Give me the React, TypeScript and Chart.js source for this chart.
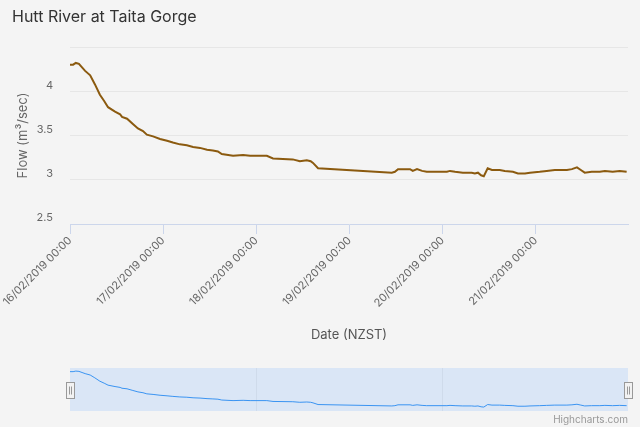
import React, { useEffect, useRef } from 'react';
import { Chart, registerables } from 'chart.js';

Chart.register(...registerables);

// ---- data (hours since 16/02/2019 00:00 NZST, flow m³/sec) ----
const hours = [
  0, 0.8, 1.5, 2.3, 3.1, 3.9, 5.2, 6.4, 7.7, 8.8, 9.8, 11.6, 12.9, 13.4, 14.7, 16.2, 17.5, 18.8, 19.8,
  21.4, 23.2, 25, 26.5, 28.3, 30.1, 31.7, 33.5, 35.3, 36.8, 38.1, 39.1, 42, 44.6, 46.4, 50.7, 52.3,
  57.4, 59.2, 61, 62, 62.6, 63.9, 82.9, 83.7, 84.5, 87.6, 88.3, 89.4, 90.7, 91.9, 97.1, 97.9, 99.2,
  101.2, 103.5, 104.3, 105.1, 105.9, 106.6, 107.6, 108.7, 110.7, 112, 114.1, 115.4, 117.2, 118.5,
  121, 122.8, 124.9, 128, 129.3, 130.6, 131.6, 132.6, 134.4, 136.5, 137.8, 139.8, 141.6, 143.4,
];
const flows = [
  4.3, 4.3, 4.32, 4.31, 4.27, 4.23, 4.18, 4.08, 3.96, 3.89, 3.82, 3.77, 3.74, 3.71, 3.69, 3.63, 3.58, 3.55, 3.51,
  3.49, 3.46, 3.44, 3.42, 3.4, 3.39, 3.37, 3.36, 3.34, 3.33, 3.32, 3.29, 3.27, 3.28, 3.27, 3.27, 3.24,
  3.23, 3.21, 3.22, 3.21, 3.19, 3.13, 3.08, 3.09, 3.12, 3.12, 3.1, 3.12, 3.1, 3.09, 3.09, 3.1, 3.09,
  3.08, 3.08, 3.07, 3.08, 3.05, 3.04, 3.13, 3.11, 3.11, 3.1, 3.09, 3.07, 3.07, 3.08,
  3.09, 3.1, 3.11, 3.11, 3.12, 3.14, 3.11, 3.08, 3.09, 3.09, 3.1, 3.09, 3.1, 3.09,
];
const xTickHours = [0, 24, 48, 72, 96, 120];
const xTickLabels = [
  '16/02/2019 00:00',
  '17/02/2019 00:00',
  '18/02/2019 00:00',
  '19/02/2019 00:00',
  '20/02/2019 00:00',
  '21/02/2019 00:00',
];
const navGridHours = [48, 96];
const yTickValues = [2.5, 3, 3.5, 4, 4.5];
const yTickLabels = ['2.5', '3', '3.5', '4', ''];
const yMin = 2.5;
const yMax = 4.5;
const xMax = 143.75;
const titleText = 'Hutt River at Taita Gorge';
const yTitleText = 'Flow (m³/sec)';
const xTitleText = 'Date (NZST)';
const creditText = 'Highcharts.com';

const FONT = 'Inter, "Open Sans", "DejaVu Sans", sans-serif';
const LINE_COLOR = '#8b5a0f';
const NAV_LINE = '#3a94f2';
const NAV_FILL = '#dae6f6';

const points = () => hours.map((h, i) => ({ x: h, y: flows[i] }));

const navDecor = {
  id: 'navDecor',
  beforeDraw(chart: any) {
    const { ctx, chartArea: a } = chart;
    ctx.save();
    ctx.fillStyle = NAV_FILL;
    ctx.fillRect(a.left, a.top, a.right - a.left, a.bottom - a.top);
    ctx.restore();
  },
  afterDraw(chart: any) {
    const { ctx, chartArea: a } = chart;
    const cy = (a.top + a.bottom) / 2;
    [a.left, a.right].forEach((x: number) => {
      const w = 8;
      const h = 16;
      const rx = Math.round(x - w / 2) + 0.5;
      const ry = Math.round(cy - h / 2) + 0.5;
      ctx.save();
      ctx.fillStyle = '#f2f2f2';
      ctx.strokeStyle = '#999999';
      ctx.lineWidth = 1;
      ctx.fillRect(rx, ry, w, h);
      ctx.strokeRect(rx, ry, w, h);
      ctx.beginPath();
      ctx.moveTo(rx + 3, ry + 4);
      ctx.lineTo(rx + 3, ry + h - 4);
      ctx.moveTo(rx + 5, ry + 4);
      ctx.lineTo(rx + 5, ry + h - 4);
      ctx.stroke();
      ctx.restore();
    });
  },
};

export default function App() {
  const mainRef = useRef<HTMLCanvasElement>(null);
  const navRef = useRef<HTMLCanvasElement>(null);

  useEffect(() => {
    const main = new Chart(mainRef.current as HTMLCanvasElement, {
      type: 'line',
      data: {
        datasets: [
          {
            data: points(),
            borderColor: LINE_COLOR,
            borderWidth: 2,
            pointRadius: 0,
            tension: 0,
            fill: false,
          },
        ],
      },
      options: {
        animation: false,
        responsive: false,
        events: [],
        layout: { padding: { left: 12, right: 12, top: 0, bottom: 0 } },
        plugins: {
          legend: { display: false },
          tooltip: { enabled: false },
          title: {
            display: true,
            text: titleText,
            align: 'start',
            color: '#333333',
            font: { family: FONT, size: 16, weight: 'normal' },
            padding: { top: 8, bottom: 19.8 },
          },
        },
        scales: {
          x: {
            type: 'linear',
            min: 0,
            max: xMax,
            afterBuildTicks: (s: any) => {
              s.ticks = xTickHours.map((v) => ({ value: v }));
            },
            afterFit: (s: any) => {
              s.height = 136;
            },
            ticks: {
              autoSkip: false,
              maxRotation: 45,
              minRotation: 45,
              padding: 0,
              color: '#666666',
              font: { family: FONT, size: 11 },
              callback: (v: any) => xTickLabels[xTickHours.indexOf(Number(v))] ?? '',
            },
            grid: {
              drawOnChartArea: false,
              drawTicks: true,
              tickLength: 10,
              color: '#ccd6eb',
            },
            border: { display: true, color: '#ccd6eb' },
            title: {
              display: true,
              text: xTitleText,
              color: '#555555',
              font: { family: FONT, size: 13 },
              padding: { top: 0, bottom: 17 },
            },
          },
          y: {
            type: 'linear',
            min: yMin,
            max: yMax,
            afterBuildTicks: (s: any) => {
              s.ticks = yTickValues.map((v) => ({ value: v }));
            },
            afterFit: (s: any) => {
              s.width = 58;
            },
            ticks: {
              padding: 17,
              labelOffset: -6,
              color: '#666666',
              font: { family: FONT, size: 11 },
              callback: (v: any) => yTickLabels[yTickValues.indexOf(Number(v))] ?? '',
            },
            grid: {
              drawTicks: false,
              color: (c: any) => (c.tick && c.tick.value === yMin ? 'rgba(0,0,0,0)' : '#e6e6e6'),
            },
            border: { display: false },
            title: {
              display: true,
              text: yTitleText,
              color: '#666666',
              font: { family: FONT, size: 13 },
              padding: { top: 3, bottom: 0 },
            },
          },
        },
      },
    } as any);

    const nav = new Chart(navRef.current as HTMLCanvasElement, {
      type: 'line',
      data: {
        datasets: [
          {
            data: points(),
            borderColor: NAV_LINE,
            borderWidth: 1,
            pointRadius: 0,
            tension: 0,
            fill: false,
          },
        ],
      },
      options: {
        animation: false,
        responsive: false,
        events: [],
        layout: { padding: { left: 70, right: 12, top: 8, bottom: 0 } },
        plugins: {
          legend: { display: false },
          tooltip: { enabled: false },
          title: { display: false },
          subtitle: {
            display: true,
            text: creditText,
            position: 'bottom',
            align: 'end',
            color: '#999999',
            font: { family: FONT, size: 10, weight: 'normal' },
            padding: { top: 3, bottom: 1 },
          },
        },
        scales: {
          x: {
            type: 'linear',
            min: 0,
            max: xMax,
            afterBuildTicks: (s: any) => {
              s.ticks = navGridHours.map((v) => ({ value: v }));
            },
            afterFit: (s: any) => {
              s.height = 0;
            },
            ticks: { display: false },
            grid: {
              drawTicks: false,
              color: '#cfdbeb',
            },
            border: { display: false },
          },
          y: {
            display: false,
            min: 2.9,
            max: 4.43,
          },
        },
      },
      plugins: [navDecor],
    } as any);

    return () => {
      main.destroy();
      nav.destroy();
    };
  }, []);

  return (
    <div
      style={{
        position: 'fixed',
        left: 0,
        top: 0,
        width: 640,
        height: 427,
        background: '#f4f4f4',
        overflow: 'hidden',
      }}
    >
      <canvas
        ref={mainRef}
        width={640}
        height={360}
        style={{ position: 'absolute', left: 0, top: 0, width: 640, height: 360 }}
      />
      <canvas
        ref={navRef}
        width={640}
        height={67}
        style={{ position: 'absolute', left: 0, top: 360, width: 640, height: 67 }}
      />
    </div>
  );
}
